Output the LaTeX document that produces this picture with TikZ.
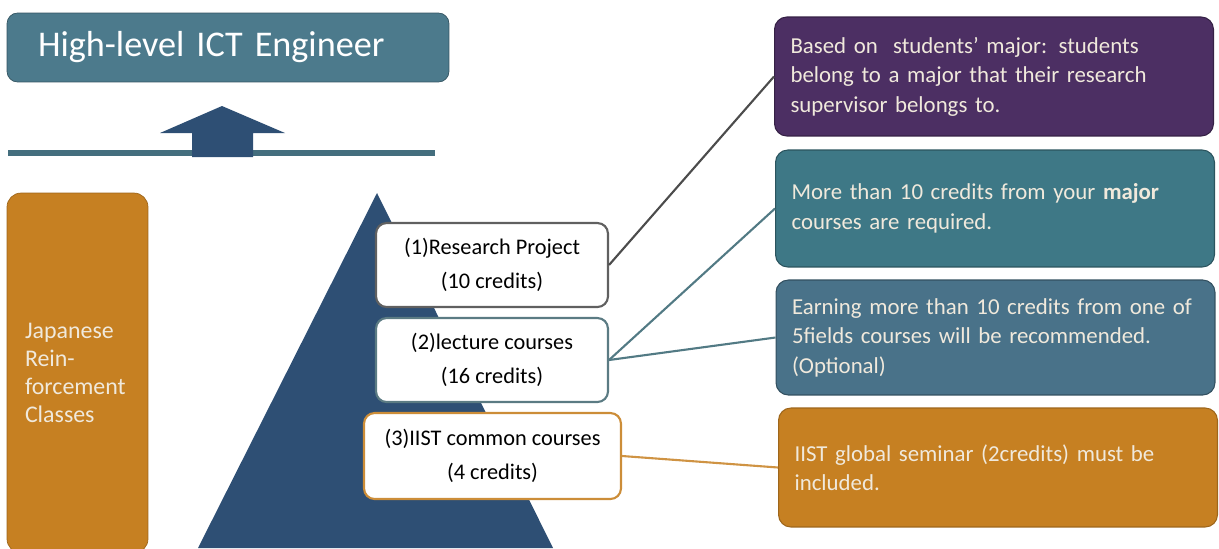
\documentclass[tikz,border=0pt]{standalone}
\usepackage{fontspec}
\setmainfont{Carlito}
\usetikzlibrary{positioning}

\definecolor{titleblue}{RGB}{76,122,140}
\definecolor{navy}{RGB}{46,79,116}
\definecolor{amber}{RGB}{198,128,34}
\definecolor{plum}{RGB}{76,47,99}
\definecolor{sea}{RGB}{62,120,134}
\definecolor{steel}{RGB}{73,114,137}
\definecolor{paper}{RGB}{240,233,220}

\tikzset{
  level/.style={draw, fill=white, rounded corners=6pt, line width=1.2pt, align=center,
    inner sep=0pt, font=\fontsize{12.7}{19.3}\selectfont},
  note/.style={rounded corners=7pt, line width=0.6pt, text=paper, align=left,
    text width=8.14cm, inner xsep=0.32cm, font=\fontsize{13}{16.8}\selectfont},
  link/.style={line width=1.2pt}
}

\begin{document}
\begin{tikzpicture}[x=0.02cm,y=-0.02cm]
\useasboundingbox (0,0) rectangle (1219,548);
\clip (0,0) rectangle (1219,548);

% Goal
\node[fill=titleblue, draw=titleblue!70!black, rounded corners=6pt, text=white,
  text width=7.6cm, inner xsep=0.62cm, minimum height=1.38cm, align=left,
  font=\fontsize{20.6}{25}\selectfont] (goal) at (228,47.5) {High-level ICT Engineer};

% Line and arrow
\draw[titleblue!90!black, line width=3pt] (8,153) -- (435,153);
\fill[navy] (192,157) -- (192,133) -- (160,133) -- (222,106) -- (285,133)
  -- (253,133) -- (253,157) -- cycle;

% Japanese classes
\node[fill=amber, draw=amber!80!black, rounded corners=8pt, text=paper,
  text width=2.1cm, inner xsep=0.36cm, minimum height=7.2cm, align=left,
  font=\fontsize{13.6}{16}\selectfont] (japanese) at (77.5,373)
  {Japanese\\Rein-\\forcement\\Classes};

% Pyramid
\fill[navy] (377,193) -- (553,548) -- (198,548) -- cycle;

% Levels
\node[level, draw=gray!75!black, minimum width=4.64cm, minimum height=1.68cm]
  (research) at (492,265) {(1)Research Project\\(10 credits)};
\node[level, draw=sea!55!gray, minimum width=4.64cm, minimum height=1.68cm]
  (lecture) at (492,360) {(2)lecture courses\\(16 credits)};
\node[level, draw=amber!90!white, minimum width=5.14cm, minimum height=1.72cm]
  (common) at (492.5,456) {(3)IIST common courses\\(4 credits)};

% Notes
\node[note, fill=plum, draw=plum!70!black, minimum height=2.38cm] (major) at (994,76.5)
  {Based on\ \ students’ major: students\\belong to a major that their research\\supervisor belongs to.};
\node[note, fill=sea, draw=sea!70!black, minimum height=2.34cm] (credits) at (995,208.5)
  {More than 10 credits from your \textbf{major}\\courses are required.};
\node[note, fill=steel, draw=steel!70!black, minimum height=2.3cm] (fields) at (995.5,337.5)
  {Earning more than 10 credits from one of\\5fields courses will be recommended.\\(Optional)};
\node[note, fill=amber, draw=amber!80!black, minimum height=2.38cm] (seminar) at (998,467.5)
  {IIST global seminar (2credits) must be\\included.};

% Links
\draw[link, gray!60!black] (research.east) -- (major.west);
\draw[link, sea!70!gray] (lecture.east) -- (credits.west);
\draw[link, sea!70!gray] (lecture.east) -- (fields.west);
\draw[link, amber!85!white] (common.east) -- (seminar.west);
\end{tikzpicture}
\end{document}
